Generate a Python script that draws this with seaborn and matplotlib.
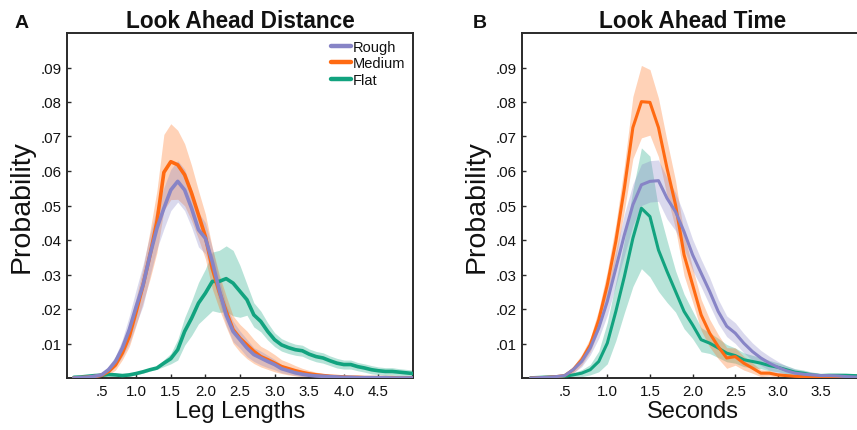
import numpy as np
import pandas as pd
import matplotlib
matplotlib.use("Agg")
import matplotlib.pyplot as plt
import seaborn as sns
from matplotlib.lines import Line2D

# ---------------- data ----------------
series = ["Rough", "Medium", "Flat"]
colors = {"Rough": "#8784C6", "Medium": "#FF6A12", "Flat": "#12A37F"}

# Panel A: Look Ahead Distance (leg lengths 0.1 .. 5.0)
dist_x = np.round(np.arange(0.1, 5.01, 0.1), 1)
dist_rough = [0.0000, 0.0001, 0.0002, 0.0005, 0.0009, 0.0024, 0.0048, 0.0087, 0.0140, 0.0207,
              0.0270, 0.0357, 0.0434, 0.0492, 0.0545, 0.0570, 0.0545, 0.0492, 0.0430, 0.0405,
              0.0337, 0.0255, 0.0183, 0.0135, 0.0111, 0.0087, 0.0068, 0.0058, 0.0048, 0.0039,
              0.0027, 0.0021, 0.0015, 0.0011, 0.0008, 0.0006, 0.0005, 0.0004, 0.0003, 0.0002,
              0.0002, 0.0001, 0.0001, 0.0001, 0.0001, 0.0001, 0.0000, 0.0000, 0.0000, 0.0000]
dist_medium = [0.0000, 0.0001, 0.0002, 0.0004, 0.0008, 0.0019, 0.0038, 0.0073, 0.0121, 0.0193,
               0.0270, 0.0357, 0.0454, 0.0596, 0.0627, 0.0618, 0.0589, 0.0536, 0.0473, 0.0410,
               0.0318, 0.0250, 0.0193, 0.0140, 0.0115, 0.0096, 0.0077, 0.0062, 0.0053, 0.0043,
               0.0033, 0.0027, 0.0021, 0.0016, 0.0012, 0.0009, 0.0007, 0.0005, 0.0004, 0.0003,
               0.0002, 0.0002, 0.0001, 0.0001, 0.0001, 0.0001, 0.0001, 0.0000, 0.0000, 0.0000]
dist_flat = [0.0002, 0.0003, 0.0005, 0.0007, 0.0008, 0.0010, 0.0009, 0.0007, 0.0009, 0.0013,
             0.0018, 0.0024, 0.0029, 0.0043, 0.0056, 0.0082, 0.0135, 0.0173, 0.0217, 0.0246,
             0.0280, 0.0280, 0.0288, 0.0275, 0.0251, 0.0227, 0.0183, 0.0164, 0.0135, 0.0111,
             0.0096, 0.0088, 0.0082, 0.0079, 0.0069, 0.0062, 0.0058, 0.0050, 0.0043, 0.0039,
             0.0039, 0.0033, 0.0029, 0.0024, 0.0021, 0.0019, 0.0019, 0.0017, 0.0015, 0.0013]
dist_rough_err = [0.0002, 0.0002, 0.0002, 0.0002, 0.0005, 0.0010, 0.0015, 0.0025, 0.0040, 0.0050,
                  0.0060, 0.0060, 0.0060, 0.0060, 0.0060, 0.0060, 0.0060, 0.0055, 0.0050, 0.0045,
                  0.0040, 0.0035, 0.0030, 0.0030, 0.0025, 0.0025, 0.0020, 0.0020, 0.0018, 0.0015,
                  0.0012, 0.0010, 0.0008, 0.0007, 0.0006, 0.0005, 0.0004, 0.0004, 0.0003, 0.0003,
                  0.0002, 0.0002, 0.0002, 0.0001, 0.0001, 0.0001, 0.0001, 0.0001, 0.0001, 0.0001]
dist_medium_err = [0.0002, 0.0002, 0.0002, 0.0002, 0.0004, 0.0010, 0.0015, 0.0020, 0.0030, 0.0040,
                   0.0050, 0.0070, 0.0090, 0.0110, 0.0110, 0.0100, 0.0090, 0.0080, 0.0070, 0.0065,
                   0.0060, 0.0050, 0.0045, 0.0040, 0.0040, 0.0040, 0.0035, 0.0030, 0.0028, 0.0025,
                   0.0020, 0.0018, 0.0015, 0.0012, 0.0010, 0.0008, 0.0006, 0.0005, 0.0004, 0.0003,
                   0.0003, 0.0002, 0.0002, 0.0002, 0.0001, 0.0001, 0.0001, 0.0001, 0.0001, 0.0001]
dist_flat_err = [0.0004, 0.0004, 0.0004, 0.0004, 0.0004, 0.0004, 0.0004, 0.0004, 0.0004, 0.0004,
                 0.0004, 0.0004, 0.0004, 0.0010, 0.0015, 0.0030, 0.0040, 0.0050, 0.0060, 0.0070,
                 0.0085, 0.0090, 0.0095, 0.0095, 0.0075, 0.0045, 0.0035, 0.0030, 0.0025, 0.0020,
                 0.0018, 0.0017, 0.0016, 0.0016, 0.0015, 0.0015, 0.0015, 0.0014, 0.0014, 0.0013,
                 0.0013, 0.0012, 0.0012, 0.0012, 0.0011, 0.0011, 0.0011, 0.0010, 0.0010, 0.0010]

# Panel B: Look Ahead Time (seconds 0.1 .. 4.0)
time_x = np.round(np.arange(0.1, 4.01, 0.1), 1)
time_rough = [0.0000, 0.0001, 0.0002, 0.0004, 0.0007, 0.0024, 0.0048, 0.0087, 0.0145, 0.0222,
              0.0318, 0.0415, 0.0502, 0.0560, 0.0570, 0.0572, 0.0521, 0.0482, 0.0424, 0.0357,
              0.0304, 0.0251, 0.0193, 0.0150, 0.0130, 0.0101, 0.0077, 0.0058, 0.0043, 0.0031,
              0.0021, 0.0014, 0.0011, 0.0009, 0.0007, 0.0007, 0.0006, 0.0004, 0.0003, 0.0002]
time_medium = [0.0000, 0.0001, 0.0002, 0.0004, 0.0007, 0.0024, 0.0053, 0.0096, 0.0169, 0.0270,
               0.0396, 0.0550, 0.0726, 0.0801, 0.0799, 0.0726, 0.0608, 0.0502, 0.0357, 0.0270,
               0.0183, 0.0130, 0.0091, 0.0058, 0.0062, 0.0043, 0.0029, 0.0014, 0.0014, 0.0009,
               0.0007, 0.0005, 0.0004, 0.0003, 0.0003, 0.0002, 0.0002, 0.0001, 0.0001, 0.0001]
time_flat = [0.0001, 0.0002, 0.0003, 0.0004, 0.0005, 0.0009, 0.0014, 0.0024, 0.0048, 0.0101,
             0.0193, 0.0294, 0.0405, 0.0492, 0.0468, 0.0371, 0.0309, 0.0251, 0.0193, 0.0154,
             0.0111, 0.0101, 0.0087, 0.0072, 0.0065, 0.0053, 0.0048, 0.0043, 0.0036, 0.0031,
             0.0024, 0.0017, 0.0014, 0.0009, 0.0007, 0.0008, 0.0008, 0.0008, 0.0007, 0.0006]
time_rough_err = [0.0002, 0.0002, 0.0002, 0.0003, 0.0005, 0.0010, 0.0015, 0.0020, 0.0030, 0.0040,
                  0.0050, 0.0060, 0.0060, 0.0060, 0.0060, 0.0060, 0.0060, 0.0055, 0.0050, 0.0045,
                  0.0040, 0.0040, 0.0035, 0.0030, 0.0030, 0.0028, 0.0025, 0.0022, 0.0020, 0.0017,
                  0.0014, 0.0012, 0.0010, 0.0008, 0.0006, 0.0005, 0.0004, 0.0003, 0.0003, 0.0002]
time_medium_err = [0.0002, 0.0002, 0.0002, 0.0003, 0.0005, 0.0010, 0.0015, 0.0020, 0.0030, 0.0040,
                   0.0050, 0.0065, 0.0090, 0.0105, 0.0095, 0.0085, 0.0080, 0.0070, 0.0060, 0.0050,
                   0.0045, 0.0040, 0.0035, 0.0030, 0.0025, 0.0020, 0.0015, 0.0010, 0.0008, 0.0006,
                   0.0005, 0.0004, 0.0003, 0.0003, 0.0002, 0.0002, 0.0002, 0.0001, 0.0001, 0.0001]
time_flat_err = [0.0002, 0.0002, 0.0002, 0.0003, 0.0004, 0.0006, 0.0010, 0.0015, 0.0030, 0.0060,
                 0.0085, 0.0105, 0.0140, 0.0175, 0.0175, 0.0120, 0.0090, 0.0060, 0.0050, 0.0040,
                 0.0035, 0.0030, 0.0028, 0.0025, 0.0022, 0.0020, 0.0018, 0.0016, 0.0015, 0.0013,
                 0.0012, 0.0010, 0.0009, 0.0008, 0.0007, 0.0006, 0.0006, 0.0005, 0.0005, 0.0005]

y_ticks = [0.01, 0.02, 0.03, 0.04, 0.05, 0.06, 0.07, 0.08, 0.09]
y_ticklabels = [".01", ".02", ".03", ".04", ".05", ".06", ".07", ".08", ".09"]
dist_xticks = [0.5, 1.0, 1.5, 2.0, 2.5, 3.0, 3.5, 4.0, 4.5]
dist_xticklabels = [".5", "1.0", "1.5", "2.0", "2.5", "3.0", "3.5", "4.0", "4.5"]
time_xticks = [0.5, 1.0, 1.5, 2.0, 2.5, 3.0, 3.5]
time_xticklabels = [".5", "1.0", "1.5", "2.0", "2.5", "3.0", "3.5"]

# ---------------- style ----------------
sns.set_theme(style="white")
plt.rcParams['font.family'] = ['Liberation Sans', 'DejaVu Sans']
TXT = "#111111"
SPINE = "#2a2a2a"

fig = plt.figure(figsize=(8.57, 4.31), dpi=100)
W, H = 857.0, 431.0
axA = fig.add_axes([67 / W, 1 - 379 / H, 346 / W, 345 / H])
axB = fig.add_axes([522 / W, 1 - 379 / H, 341.2 / W, 345 / H])


def draw_panel(ax, x, vals, errs, lw, title, xlabel, xticks, xticklabels, xlim):
    draw_order = ["Flat", "Medium", "Rough"]
    for name in draw_order:
        y = np.asarray(vals[name])
        e = np.asarray(errs[name])
        ax.fill_between(x, np.clip(y - e, 0, None), y + e, color=colors[name],
                        alpha=0.3, lw=0, zorder=1)
    frames = []
    for name in draw_order:
        frames.append(pd.DataFrame({"x": x, "p": vals[name], "cond": name}))
    df = pd.concat(frames, ignore_index=True)
    sns.lineplot(data=df, x="x", y="p", hue="cond", hue_order=draw_order,
                 palette=colors, linewidth=lw, errorbar=None, legend=False,
                 ax=ax, zorder=3)
    ax.set_xlim(*xlim)
    ax.set_ylim(0, 0.1)
    ax.set_xticks(xticks)
    ax.set_xticklabels(xticklabels)
    ax.set_yticks(y_ticks)
    ax.set_yticklabels(y_ticklabels)
    ax.tick_params(axis="both", direction="in", length=3, width=1, color=SPINE,
                   labelsize=10.8, labelcolor=TXT, pad=4, bottom=True, left=True)
    for sp in ax.spines.values():
        sp.set_visible(True)
        sp.set_color(SPINE)
        sp.set_linewidth(1.4)
    ax.set_xlabel(xlabel, fontsize=17, color=TXT, labelpad=2)
    ax.set_ylabel("Probability", fontsize=20.5, color=TXT, labelpad=4)
    ax.set_title(title, fontsize=16.3, fontweight="bold", color=TXT, pad=4)


draw_panel(axA, dist_x,
           {"Rough": dist_rough, "Medium": dist_medium, "Flat": dist_flat},
           {"Rough": dist_rough_err, "Medium": dist_medium_err, "Flat": dist_flat_err},
           2.6, "Look Ahead Distance", "Leg Lengths", dist_xticks, dist_xticklabels, (0, 5))
draw_panel(axB, time_x,
           {"Rough": time_rough, "Medium": time_medium, "Flat": time_flat},
           {"Rough": time_rough_err, "Medium": time_medium_err, "Flat": time_flat_err},
           2.2, "Look Ahead Time", "Seconds", time_xticks, time_xticklabels, (0, 4))

handles = [Line2D([0], [0], color=colors[n], lw=3.2) for n in series]
axA.legend(handles, series, loc="upper right", frameon=False, fontsize=10.5,
           handlelength=1.4, handletextpad=0.15, labelspacing=0.15,
           borderaxespad=0.2, borderpad=0.3, labelcolor=TXT)

fig.text(15 / W, 1 - 28 / H, "A", fontsize=14, fontweight="bold", color=TXT, va="baseline")
fig.text(473 / W, 1 - 28 / H, "B", fontsize=14, fontweight="bold", color=TXT, va="baseline")

fig.savefig("out.png", dpi=100)
